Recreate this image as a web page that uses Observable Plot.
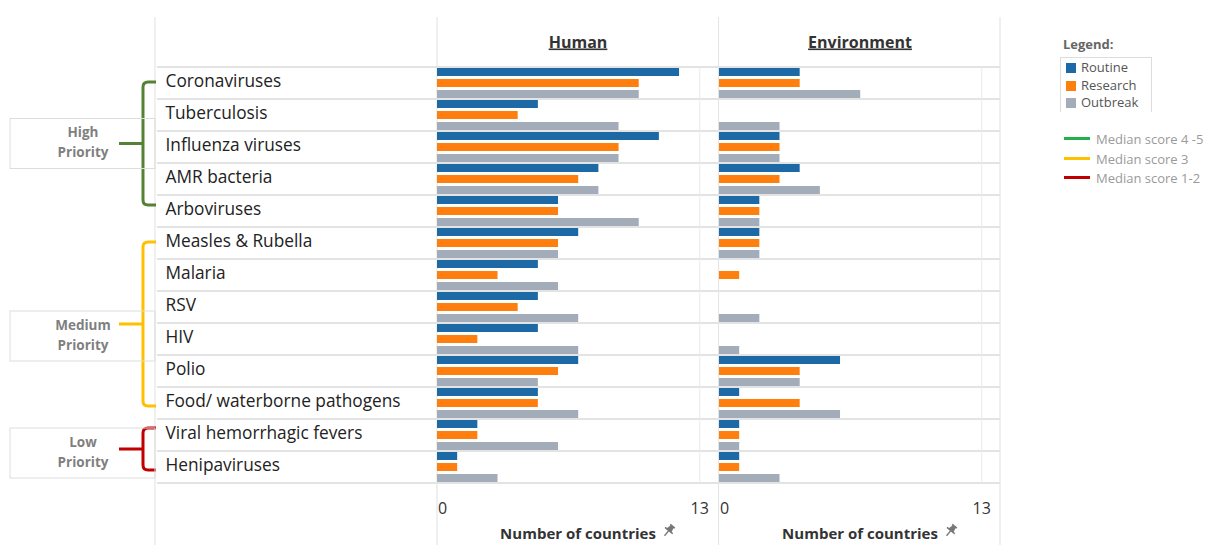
<!DOCTYPE html>
<html>
<head>
<meta charset="utf-8">
<script src="https://cdn.jsdelivr.net/npm/d3@7"></script>
<script src="https://cdn.jsdelivr.net/npm/@observablehq/plot@0.6"></script>
<style>
  html, body { margin: 0; padding: 0; background: #fff; }
  #wrap { position: relative; width: 1206px; height: 545px; font-family: "Open Sans", sans-serif; overflow: hidden; }
  #chart { position: absolute; left: 0; top: 0; }
  .lg-title { position: absolute; left: 1063px; top: 35px; font-size: 13px; font-weight: bold; color: #666; }
  .lg-box { position: absolute; left: 1060px; top: 57px; width: 90px; height: 54px; border: 1px solid #ddd; border-bottom: none; }
  .lg-item { position: absolute; left: 1066px; font-size: 13px; color: #555; line-height: 16px; }
  .lg-item span.sw { display: inline-block; width: 10px; height: 10px; margin-right: 5px; vertical-align: -1px; }
  .md-item { position: absolute; left: 1064px; font-size: 13px; color: #9a9a9a; line-height: 16px; }
  .md-item span.ln { display: inline-block; width: 26px; height: 3px; margin-right: 6px; vertical-align: 4px; }
</style>
</head>
<body>
<div id="wrap">
  <div id="chart"></div>
  <div class="lg-title">Legend:</div>
  <div class="lg-box"></div>
  <div id="legend"></div>
</div>
<script>
// ---- Data ----
const panels = ["Human", "Environment"];
const categories = [
  "Coronaviruses", "Tuberculosis", "Influenza viruses", "AMR bacteria", "Arboviruses",
  "Measles & Rubella", "Malaria", "RSV", "HIV", "Polio", "Food/ waterborne pathogens",
  "Viral hemorrhagic fevers", "Henipaviruses"
];
const seriesNames = ["Routine", "Research", "Outbreak"];
const humanRoutine  = [12, 5, 11, 8, 6, 7, 5, 5, 5, 7, 5, 2, 1];
const humanResearch = [10, 4,  9, 7, 6, 6, 3, 4, 2, 6, 5, 2, 1];
const humanOutbreak = [10, 9,  9, 8, 10, 6, 6, 7, 7, 5, 7, 6, 3];
const envRoutine    = [4, 0, 3, 4, 2, 2, 0, 0, 0, 6, 1, 1, 1];
const envResearch   = [4, 0, 3, 3, 2, 2, 1, 0, 0, 4, 4, 1, 1];
const envOutbreak   = [7, 3, 3, 5, 2, 2, 0, 2, 1, 4, 6, 1, 3];
const xTicks = [0, 13];
const axisTitle = "Number of countries";
const priorityLevels = ["High", "Medium", "Low"];
const priorityFirst = ["Coronaviruses", "Measles & Rubella", "Viral hemorrhagic fevers"];
const priorityLast = ["Arboviruses", "Food/ waterborne pathogens", "Henipaviruses"];
const medianLabels = ["Median score 4 -5", "Median score 3", "Median score 1-2"];

const seriesColors = ["#1c69a6", "#ff7f0e", "#a3acb9"];
const priorityColors = ["#548235", "#ffc000", "#c00000"];
const medianColors = ["#22b04b", "#ffc000", "#c00000"];

// tidy table
const valuesByPanel = {
  Human: [humanRoutine, humanResearch, humanOutbreak],
  Environment: [envRoutine, envResearch, envOutbreak]
};
const data = [];
panels.forEach(p => categories.forEach((c, i) => seriesNames.forEach((s, j) => {
  data.push({panel: p, category: c, series: s, value: valuesByPanel[p][j][i]});
})));

const plot = Plot.plot({
  width: 1010,
  height: 545,
  marginLeft: 437,
  marginRight: 10,
  marginTop: 62,
  marginBottom: 58,
  style: {fontFamily: "'Open Sans', sans-serif", background: "transparent", overflow: "visible"},
  fx: {domain: panels, paddingInner: 0.005, paddingOuter: 0, axis: null, label: null},
  fy: {domain: categories, padding: 0, axis: null, label: null},
  x: {domain: [0, 13.93], axis: null},
  y: {domain: seriesNames, paddingInner: 0.28, paddingOuter: 0.06, axis: null},
  color: {domain: seriesNames, range: seriesColors},
  marks: [
    Plot.ruleX([xTicks[1]], {stroke: "#ebebeb", strokeWidth: 1}),
    Plot.barX(data, {fx: "panel", fy: "category", y: "series", x: "value", fill: "series"}),
    Plot.axisFx({anchor: "top", tickSize: 0, fontSize: 16, fontWeight: "bold", fill: "#333", dy: -11, label: null}),
    Plot.axisFy({anchor: "left", tickSize: 0, textAnchor: "start", dx: -263, dy: -2, fontSize: 17.3, fill: "#222", label: null}),
    Plot.axisX({ticks: [xTicks[0]], tickSize: 0, dx: 5, dy: 10, fontSize: 16, fill: "#333", label: null}),
    Plot.axisX({ticks: [xTicks[1]], tickSize: 0, dy: 10, fontSize: 16, fill: "#333", label: null}),
    Plot.text(panels, {
      fx: d => d, fy: () => categories[categories.length - 1],
      frameAnchor: "bottom", dy: 55, text: () => axisTitle,
      fontWeight: "bold", fontSize: 15, fill: "#333"
    })
  ]
});
document.getElementById("chart").appendChild(plot);

// underline headers
d3.select(plot).selectAll('[aria-label="fx-axis tick label"] text').style("text-decoration", "underline");

// ---- overlay: grid lines, brackets, priority boxes, pins ----
const fxS = plot.scale("fx"), fyS = plot.scale("fy");
const bw = fyS.bandwidth;
const svg = d3.select(plot);
const under = svg.insert("g", ":first-child");
const rowEdges = categories.map(c => fyS.apply(c)).concat([fyS.apply(categories[categories.length - 1]) + bw]);
under.selectAll("line.row").data(rowEdges).join("line")
  .attr("x1", 157).attr("x2", 1000).attr("y1", d => d).attr("y2", d => d)
  .attr("stroke", "#dadada").attr("stroke-width", 1.5);
const vx = [155, fxS.apply(panels[0]), fxS.apply(panels[1]) - 0.5, fxS.apply(panels[1]) + fxS.bandwidth];
under.selectAll("line.col").data(vx).join("line")
  .attr("x1", d => d).attr("x2", d => d).attr("y1", 17).attr("y2", 545)
  .attr("stroke", "#e6e6e6").attr("stroke-width", 1.2);

const over = svg.append("g");
const topAdj = [-1, -1, -7], botAdj = [-6, 3, 3];
const boxOffset = [0, 12, 4];
priorityLevels.forEach((lvl, i) => {
  const top = fyS.apply(priorityFirst[i]) + bw / 2 + topAdj[i];
  const bot = fyS.apply(priorityLast[i]) + bw / 2 + botAdj[i];
  const mid = (top + bot) / 2;
  const col = priorityColors[i];
  over.append("path")
    .attr("d", `M156,${top} H148 Q143,${top} 143,${top + 5} V${bot - 5} Q143,${bot} 148,${bot} H156 M119,${mid} H143`)
    .attr("fill", "none").attr("stroke", col).attr("stroke-width", 3);
  const bc = mid + boxOffset[i];
  over.append("rect").attr("x", 10).attr("y", bc - 25).attr("width", 145).attr("height", 50)
    .attr("fill", "none").attr("stroke", "#dddddd").attr("stroke-width", 1);
  over.append("text").attr("x", 83).attr("y", bc - 10).attr("text-anchor", "middle").attr("dominant-baseline", "middle")
    .attr("font-size", 13.5).attr("font-weight", "bold").attr("fill", "#7f7f7f").text(lvl);
  over.append("text").attr("x", 83).attr("y", bc + 10).attr("text-anchor", "middle").attr("dominant-baseline", "middle")
    .attr("font-size", 13.5).attr("font-weight", "bold").attr("fill", "#7f7f7f").text("Priority");
});
panels.forEach(p => {
  const cx = fxS.apply(p) + fxS.bandwidth / 2 + 91;
  over.append("path")
    .attr("transform", `translate(${cx},531) rotate(40)`)
    .attr("d", "M-3,-7 h6 v1.6 h-1 l1,4 h2 v1.6 h-10 v-1.6 h2 l1,-4 h-1 z M-0.7,0.2 h1.4 v6 h-1.4 z")
    .attr("fill", "#777");
});

// ---- legend ----
const lg = d3.select("#legend");
seriesNames.forEach((s, i) => {
  const it = lg.append("div").attr("class", "lg-item").style("top", (59 + i * 17.5) + "px");
  it.append("span").attr("class", "sw").style("background", seriesColors[i]);
  it.append("span").text(s);
});
medianLabels.forEach((s, i) => {
  const it = lg.append("div").attr("class", "md-item").style("top", (131 + i * 19.5) + "px");
  it.append("span").attr("class", "ln").style("background", medianColors[i]);
  it.append("span").text(s);
});
</script>
</body>
</html>
